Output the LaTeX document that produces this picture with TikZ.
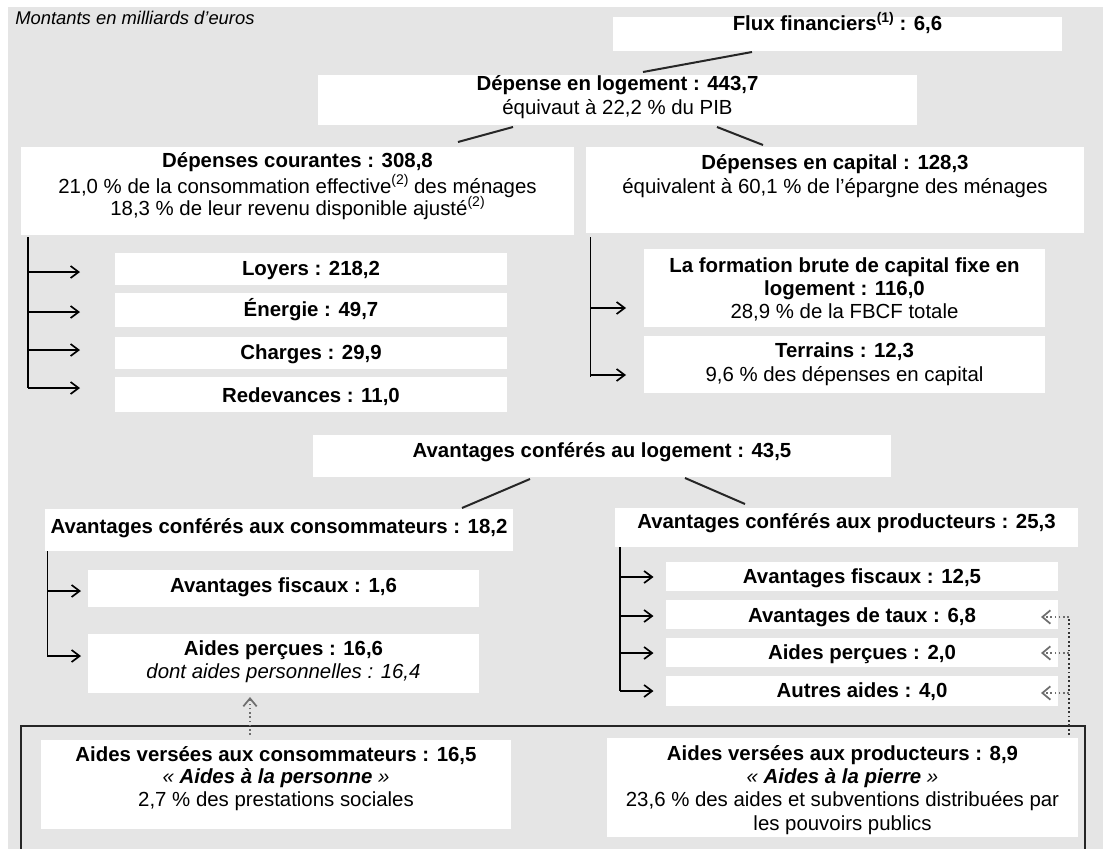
\documentclass[tikz,border=0pt]{standalone}
\usepackage{fontspec}
\setmainfont{Liberation Sans}
\usetikzlibrary{arrows.meta,calc}
\definecolor{bg}{HTML}{E5E5E5}
\definecolor{dotc}{HTML}{6E6E6E}
\newcommand\mysup[1]{\raisebox{0.42em}{\fontsize{10.5}{10}\selectfont #1}}
\newcommand\mybox[5]{\node[wbox,minimum width={(#4-#2)*0.75pt},minimum height={(#5-#3)*0.75pt}] (#1) at ({(#2+#4)/2},{(#3+#5)/2}) {};}
\begin{document}
\begin{tikzpicture}[x=0.75pt,y=-0.75pt,
  wbox/.style={draw=none,fill=white,inner sep=0pt,outer sep=0pt},
  rt/.style={anchor=base,inner sep=0pt,font=\fontsize{15.3}{17}\selectfont},
  bt/.style={anchor=base,inner sep=0pt,font=\fontsize{15.3}{17}\selectfont\bfseries},
  it/.style={anchor=base,inner sep=0pt,font=\fontsize{15.3}{17}\selectfont\itshape},
  conn/.style={line width=1.5pt,black!85},
  trunk/.style={line width=1.25pt,black},
  arr/.style={line width=1.25pt,black,-{Straight Barb[length=6pt,width=9pt,line width=1.25pt]}},
  darr/.style={line width=1.2pt,dotc,dotted,-{Straight Barb[length=6pt,width=10pt,line width=1.3pt]}},
  dline/.style={line width=1.3pt,black!80,dotted},
  frame/.style={line width=1.6pt,black!85}]
\useasboundingbox (0,0) rectangle (1103,849);
\fill[bg] (8,7) rectangle (1103,849);
\node[anchor=base west,inner sep=0pt,font=\fontsize{13.8}{16}\selectfont\itshape] (title) at (15,25) {Montants en milliards d'euros};

% boxes
\mybox{flux}{613}{17}{1062}{51}
\mybox{dep}{318}{75}{917}{125}
\mybox{cour}{21}{147}{574}{235}
\mybox{cap}{586}{147}{1084}{233}
\mybox{loy}{115}{253}{507}{285}
\mybox{ene}{115}{293}{507}{327}
\mybox{cha}{115}{337}{507}{369}
\mybox{red}{115}{377}{507}{412}
\mybox{fbcf}{644}{249}{1045}{327}
\mybox{ter}{644}{336}{1045}{393}
\mybox{avl}{313}{435}{891}{477}
\mybox{avc}{45}{509}{513}{551}
\mybox{afc}{88}{570}{479}{607}
\mybox{apc}{88}{634}{479}{693}
\mybox{avp}{615}{508}{1078}{547}
\mybox{afp}{666}{562}{1058}{591}
\mybox{atp}{666}{600}{1058}{629}
\mybox{app}{666}{638}{1058}{667}
\mybox{aap}{666}{676}{1058}{706}
\mybox{vc}{41}{740}{511}{829}
\mybox{vp}{607}{738}{1078}{837}

% bottom frame
\draw[frame] (21,851) -- (21,726) -- (1085,726) -- (1085,851);

% texts
\node[bt] (fluxt) at (837.5,31) {Flux financiers\mysup{(1)} : 6,6};
\node[bt] (dept1) at (617.5,91) {Dépense en logement : 443,7};
\node[rt] (dept2) at (617.5,114) {équivaut à 22,2 \% du PIB};
\node[bt] (court1) at (297.5,167) {Dépenses courantes : 308,8};
\node[rt] (court2) at (297.5,193) {21,0 \% de la consommation effective\mysup{(2)} des ménages};
\node[rt] (court3) at (297.5,215) {18,3 \% de leur revenu disponible ajusté\mysup{(2)}};
\node[bt] (capt1) at (835,169) {Dépenses en capital : 128,3};
\node[rt] (capt2) at (835,193) {équivalent à 60,1 \% de l'épargne des ménages};
\node[bt] (loyt) at (311,275) {Loyers : 218,2};
\node[bt] (enet) at (311,316) {Énergie : 49,7};
\node[bt] (chat) at (311,359) {Charges : 29,9};
\node[bt] (redt) at (311,402) {Redevances : 11,0};
\node[bt] (fbcft1) at (844.5,272) {La formation brute de capital fixe en};
\node[bt] (fbcft2) at (844.5,295) {logement : 116,0};
\node[rt] (fbcft3) at (844.5,318) {28,9 \% de la FBCF totale};
\node[bt] (tert1) at (844.5,357) {Terrains : 12,3};
\node[rt] (tert2) at (844.5,381) {9,6 \% des dépenses en capital};
\node[bt] (avlt) at (602,457) {Avantages conférés au logement : 43,5};
\node[bt] (avct) at (279,533) {Avantages conférés aux consommateurs : 18,2};
\node[bt] (afct) at (283.5,592) {Avantages fiscaux : 1,6};
\node[bt] (apct1) at (283.5,655) {Aides perçues : 16,6};
\node[it] (apct2) at (283.5,678) {dont aides personnelles : 16,4};
\node[bt] (avpt) at (846.5,528) {Avantages conférés aux producteurs : 25,3};
\node[bt] (afpt) at (862,583) {Avantages fiscaux : 12,5};
\node[bt] (atpt) at (862,622) {Avantages de taux : 6,8};
\node[bt] (appt) at (862,659) {Aides perçues : 2,0};
\node[bt] (aapt) at (862,697) {Autres aides : 4,0};
\node[bt] (vct1) at (276,761) {Aides versées aux consommateurs : 16,5};
\node[it] (vct2) at (276,783) {«~\textbf{Aides à la personne}~»};
\node[rt] (vct3) at (276,806) {2,7 \% des prestations sociales};
\node[bt] (vpt1) at (842.5,760) {Aides versées aux producteurs : 8,9};
\node[it] (vpt2) at (842.5,783) {«~\textbf{Aides à la pierre}~»};
\node[rt] (vpt3) at (842.5,806) {23,6 \% des aides et subventions distribuées par};
\node[rt] (vpt4) at (842.5,830) {les pouvoirs publics};

% diagonal connectors
\draw[conn] ($(flux.south west)+(139,1)$) -- ($(dep.north west)+(325,-3)$);
\draw[conn] ($(dep.south west)+(195,2)$) -- ($(cour.north west)+(437,-5)$);
\draw[conn] ($(dep.south west)+(399,2)$) -- ($(cap.north west)+(177,-2)$);
\draw[conn] ($(avl.south west)+(217,2)$) -- ($(avc.north west)+(417,-1)$);
\draw[conn] ($(avl.south west)+(372,1)$) -- ($(avp.north west)+(130,-4)$);

% tree: depenses courantes
\coordinate (ct) at ($(cour.south west)+(7,2)$);
\draw[trunk] (ct) -- ($(ct)+(0,151)$);
\draw[arr] ($(ct |- loy.west)+(0,3)$) -- ($(loy.west)+(-35,3)$);
\draw[arr] ($(ct |- ene.west)+(0,2)$) -- ($(ene.west)+(-35,2)$);
\draw[arr] ($(ct |- cha.west)+(0,-3)$) -- ($(cha.west)+(-35,-3)$);
\draw[arr] ($(ct |- red.west)+(0,-6.5)$) -- ($(red.west)+(-35,-6.5)$);

% tree: depenses en capital
\coordinate (kt) at ($(cap.south west)+(4.5,4)$);
\draw[trunk] (kt) -- ($(kt)+(0,140)$);
\draw[arr] ($(kt |- fbcf.west)+(0,20)$) -- ($(fbcf.west)+(-18,20)$);
\draw[arr] ($(kt |- ter.west)+(0,10.5)$) -- ($(ter.west)+(-18,10.5)$);

% tree: consommateurs
\coordinate (at) at ($(avc.south west)+(2.5,0)$);
\draw[trunk] (at) -- ($(at)+(0,106)$);
\draw[arr] ($(at |- afc.west)+(0,2.5)$) -- ($(afc.west)+(-7,2.5)$);
\draw[arr] ($(at |- apc.west)+(0,-7.5)$) -- ($(apc.west)+(-7,-7.5)$);

% tree: producteurs
\coordinate (pt) at ($(avp.south west)+(5,0)$);
\draw[trunk] (pt) -- ($(pt)+(0,144)$);
\draw[arr] ($(pt |- afp.west)+(0,0.5)$) -- ($(afp.west)+(-12.5,0.5)$);
\draw[arr] ($(pt |- atp.west)+(0,1.5)$) -- ($(atp.west)+(-12.5,1.5)$);
\draw[arr] ($(pt |- app.west)+(0,0.5)$) -- ($(app.west)+(-12.5,0.5)$);
\draw[arr] ($(pt |- aap.west)+(0,0)$) -- ($(aap.west)+(-12.5,0)$);

% dotted links
\draw[dline] ($(vp.north east)+(-9,-3)$) -- ($(atp.east)+(11,2.5)$);
\draw[darr] ($(atp.east)+(11,2.5)$) -- ($(atp.east)+(-17,2.5)$);
\draw[darr] ($(app.east)+(11,0.5)$) -- ($(app.east)+(-17,0.5)$);
\draw[darr] ($(aap.east)+(11,2)$) -- ($(aap.east)+(-17,2)$);
\draw[darr] ($(vc.north west)+(209,-5)$) -- ($(apc.south west)+(162,4)$);
\end{tikzpicture}
\end{document}
